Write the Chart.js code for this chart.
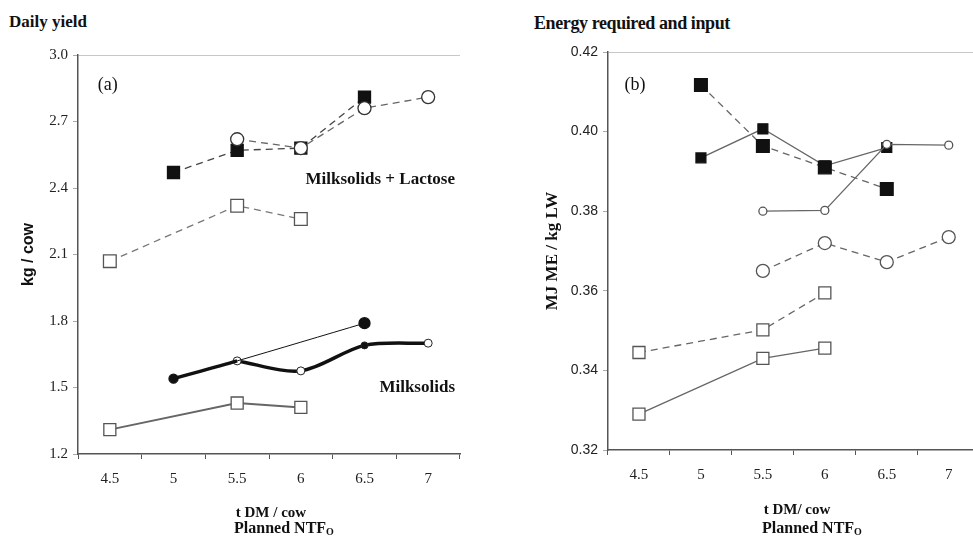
<!DOCTYPE html>
<html>
<head>
<meta charset="utf-8">
<script src="https://cdn.jsdelivr.net/npm/chart.js@4"></script>
<style>
  body { margin: 0; background: #fff; overflow: hidden; width: 973px; height: 536px; position: relative; }
  .box { position: absolute; top: 0; }
  .lbl { position: absolute; font-family: "Liberation Serif", serif; font-weight: bold; color: #111; white-space: nowrap; }
  .xt { text-align: center; width: 200px; line-height: 16px; }
  sub { font-size: 10px; vertical-align: -2px; }
</style>
</head>
<body>
<div class="lbl" style="left:9px; top:12px; font-size:17px;">Daily yield</div>
<div class="lbl" style="left:534px; top:13px; font-size:18px; letter-spacing:-0.4px;">Energy required and input</div>

<div class="box" style="left:0;"><canvas id="chartA" width="480" height="536"></canvas></div>
<div class="box" style="left:480px;"><canvas id="chartB" width="510" height="536"></canvas></div>

<div class="lbl xt" style="left:171px; top:504px; font-size:15px;">t DM / cow</div>
<div class="lbl xt" style="left:184px; top:520px; font-size:16px;">Planned NTF<sub>O</sub></div>
<div class="lbl xt" style="left:697px; top:501px; font-size:15px;">t DM/ cow</div>
<div class="lbl xt" style="left:712px; top:520px; font-size:16px;">Planned NTF<sub>O</sub></div>

<script>
const xLabels = ['4.5', '5', '5.5', '6', '6.5', '7'];

// (a) daily yield, kg / cow
const mlFilledSquares = [null, 2.47, 2.57, 2.58, 2.81, null];
const mlOpenCircles   = [null, null, 2.62, 2.58, 2.76, 2.81];
const mlOpenSquares   = [2.07, null, 2.32, 2.26, null, null];
const msFilled        = [null, 1.54, 1.62, null, 1.79, null];
const msCircles       = [null, null, 1.62, 1.575, 1.69, 1.70];
const msSquares       = [1.31, null, 1.43, 1.41, null, null];
const yTicksA = [1.2, 3.0, 0.3];

// (b) energy, MJ ME / kg LW
const eSolidSquares = [null, 0.3934, 0.4007, 0.3914, 0.3960, null];
const eSolidCircles = [null, null, 0.3800, 0.3802, 0.3968, 0.3966];
const eDashSquares  = [null, 0.4117, 0.3964, 0.3910, 0.3856, null];
const eDashCircles  = [null, null, 0.3650, 0.3720, 0.3672, 0.3735];
const eDashOpenSq   = [0.3445, null, 0.3502, 0.3595, null, null];
const eSolidOpenSq  = [0.3290, null, 0.3430, 0.3456, null, null];
const yTicksB = [0.32, 0.42, 0.02];

const serif = 'Liberation Serif';

function line(data, opts) {
  return Object.assign({
    data: data,
    borderColor: '#555',
    borderWidth: 1.3,
    pointBorderColor: '#222',
    pointBackgroundColor: '#fff',
    pointBorderWidth: 1.3,
    pointStyle: 'circle',
    pointRadius: 5,
    spanGaps: true,
    tension: 0
  }, opts);
}

// text placed on the plot in data coordinates
const notes = {
  id: 'notes',
  afterDatasetsDraw(chart, args, o) {
    const ctx = chart.ctx, xs = chart.scales.x, ys = chart.scales.y;
    ctx.save();
    ctx.fillStyle = '#111';
    ctx.textBaseline = 'middle';
    (o.items || []).forEach(t => {
      ctx.font = t.font;
      ctx.textAlign = t.align || 'center';
      const x = t.right ? chart.chartArea.right - t.right : xs.getPixelForValue(t.x) + (t.dx || 0);
      ctx.fillText(t.text, x, ys.getPixelForValue(t.y));
    });
    ctx.restore();
  }
};

function axes(yr, digits, yFont, width, titleText, titlePad, titleFont, xHeight) {
  return {
    x: {
      type: 'category',
      offset: true,
      grid: {
        offset: true,
        drawOnChartArea: true,
        color: c => c.index === xLabels.length ? '#aaa' : 'rgba(0,0,0,0)',
        tickColor: '#555',
        tickLength: 5
      },
      border: { color: '#555', width: 1.5 },
      ticks: { color: '#222', font: { family: serif, size: 15 }, padding: 11, maxRotation: 0 },
      afterFit: s => { s.height = xHeight; }
    },
    y: {
      min: yr[0], max: yr[1],
      ticks: {
        stepSize: yr[2],
        color: '#222',
        font: yFont,
        padding: 5,
        callback: v => Number(v).toFixed(digits)
      },
      grid: {
        color: c => c.index === c.chart.scales.y.ticks.length - 1 ? '#c8c8c8' : 'rgba(0,0,0,0)',
        tickColor: '#aaa',
        tickLength: 5
      },
      border: { color: '#555', width: 1.5 },
      title: { display: true, text: titleText, color: '#111', font: titleFont, padding: { top: titlePad, bottom: 0 } },
      afterFit: s => { s.width = width; }
    }
  };
}

new Chart(document.getElementById('chartA'), {
  type: 'line',
  data: {
    labels: xLabels,
    datasets: [
      line(mlOpenSquares, { borderColor: '#777', borderDash: [7, 5], pointStyle: 'rect', pointRadius: 9, pointBorderColor: '#555' }),
      line(mlOpenCircles, { borderColor: '#666', borderDash: [7, 5], pointRadius: 6.5, pointBorderColor: '#333' }),
      line(mlFilledSquares, { borderColor: '#444', borderDash: [7, 5], pointStyle: 'rect', pointRadius: 8.5, pointBackgroundColor: '#111', pointBorderColor: '#111' }),
      line(msSquares, { borderColor: '#666', borderWidth: 2, pointStyle: 'rect', pointRadius: 8.5, pointBorderColor: '#555' }),
      line(msFilled, {
        borderColor: '#111', tension: 0.3,
        segment: { borderWidth: c => c.p0DataIndex === 1 ? 3.5 : 1 },
        pointRadius: [0, 4.5, 0, 0, 5.5, 0], pointBackgroundColor: '#111', pointBorderColor: '#111'
      }),
      line(msCircles, {
        borderColor: '#111', borderWidth: 3.5, tension: 0.3,
        pointRadius: [0, 0, 4, 4, 3.5, 4],
        pointBackgroundColor: ['#fff', '#fff', '#fff', '#fff', '#111', '#fff'],
        pointBorderColor: '#222', pointBorderWidth: 1
      })
    ]
  },
  options: {
    responsive: false,
    animation: false,
    layout: { padding: { top: 55, right: 20, left: 0, bottom: 0 } },
    plugins: {
      legend: { display: false },
      tooltip: { enabled: false },
      notes: { items: [
        { text: '(a)', x: 0, y: 2.865, font: '18px "Liberation Serif"', dx: -2 },
        { text: 'Milksolids + Lactose', right: 5, y: 2.436, align: 'right', font: 'bold 17px "Liberation Serif"' },
        { text: 'Milksolids', right: 5, y: 1.498, align: 'right', font: 'bold 17px "Liberation Serif"' }
      ] }
    },
    scales: axes(yTicksA, 1, { family: serif, size: 15 }, 78, 'kg / cow', 19,
      { family: 'Liberation Sans', size: 16, weight: 'bold' }, 82)
  },
  plugins: [notes]
});

new Chart(document.getElementById('chartB'), {
  type: 'line',
  data: {
    labels: xLabels,
    datasets: [
      line(eSolidOpenSq, { borderColor: '#666', pointStyle: 'rect', pointRadius: 8.5, pointBorderColor: '#555' }),
      line(eDashOpenSq, { borderColor: '#666', borderDash: [7, 5], pointStyle: 'rect', pointRadius: 8.5, pointBorderColor: '#555' }),
      line(eDashCircles, { borderColor: '#666', borderDash: [7, 5], pointRadius: 6.5, pointBorderColor: '#555' }),
      line(eSolidCircles, { borderColor: '#666', pointRadius: 4, pointBorderColor: '#555' }),
      line(eDashSquares, { borderColor: '#666', borderDash: [7, 5], pointStyle: 'rect', pointRadius: 9, pointBackgroundColor: '#111', pointBorderColor: '#111' }),
      line(eSolidSquares, { borderColor: '#666', pointStyle: 'rect', pointRadius: 7, pointBackgroundColor: '#111', pointBorderColor: '#111' })
    ]
  },
  options: {
    responsive: false,
    animation: false,
    layout: { padding: { top: 52, right: 5, left: 0, bottom: 0 } },
    plugins: {
      legend: { display: false },
      tooltip: { enabled: false },
      notes: { items: [
        { text: '(b)', x: 0, y: 0.4117, font: '18px "Liberation Serif"', dx: -4 }
      ] }
    },
    scales: axes(yTicksB, 2, { family: 'Liberation Sans', size: 14 }, 128, 'MJ ME / kg LW', 62,
      { family: serif, size: 17, weight: 'bold' }, 86)
  },
  plugins: [notes]
});
</script>
</body>
</html>
